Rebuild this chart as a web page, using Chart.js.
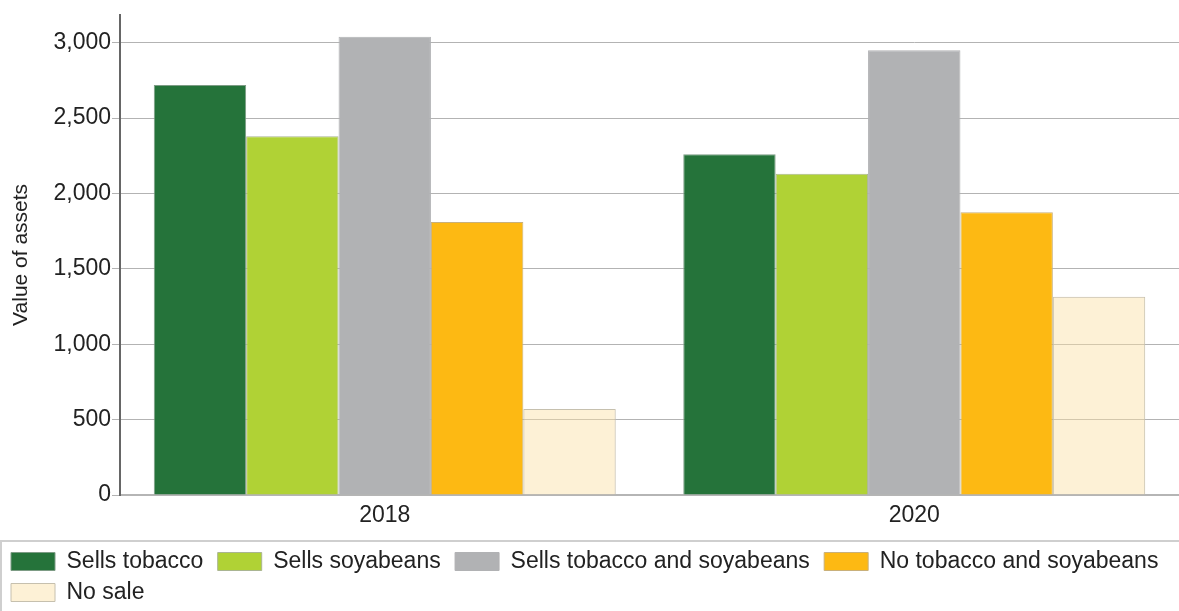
<!DOCTYPE html>
<html>
<head>
<meta charset="utf-8">
<script src="https://cdn.jsdelivr.net/npm/chart.js@4"></script>
<style>
html,body{margin:0;padding:0;background:#fff}
#wrap{width:1179px;height:611px;position:relative}
</style>
</head>
<body>
<div id="wrap"><canvas id="assetChart" width="1179" height="611"></canvas></div>
<script>
const years = ["2018", "2020"]
const sellsTobacco = [2720, 2260]
const sellsSoyabeans = [2380, 2130]
const sellsBoth = [3040, 2950]
const noTobaccoSoy = [1810, 1875]
const noSale = [570, 1315]
const yTicks = [0, 500, 1000, 1500, 2000, 2500, 3000]

const FONT = "'Liberation Sans', Arial, Helvetica, sans-serif"

// nudge legend down a little and draw the frame round it
const legendFrame = {
id: "legendFrame",
afterLayout(chart){
chart.legend.top += 3
chart.legend.bottom += 3
},
afterDraw(chart){
const lg = chart.legend
const c = chart.ctx
c.save()
c.strokeStyle = "#cfcfcf"
c.lineWidth = 2
c.strokeRect(1, lg.top - 1, chart.width + 10, lg.height + 10)
c.restore()
}
}

const defaultLabels = Chart.defaults.plugins.legend.labels.generateLabels

const ctx = document.getElementById("assetChart")

new Chart(ctx, {
type: "bar",
data: {
labels: years,
datasets: [
{ label: "Sells tobacco", data: sellsTobacco, backgroundColor: "#25733a", borderColor: "#7d9c85", borderWidth: 1 },
{ label: "Sells soyabeans", data: sellsSoyabeans, backgroundColor: "#b0d235", borderColor: "#aab592", borderWidth: 1 },
{ label: "Sells tobacco and soyabeans", data: sellsBoth, backgroundColor: "#b1b2b4", borderColor: "#b1b2b4", borderWidth: 1 },
{ label: "No tobacco and soyabeans", data: noTobaccoSoy, backgroundColor: "#fdb913", borderColor: "#c9b07a", borderWidth: 1 },
{ label: "No sale", data: noSale, backgroundColor: "rgba(250,225,165,0.45)", borderColor: "#c6c0ae", borderWidth: 1 }
]
},
options: {
responsive: false,
animation: false,
layout: { padding: { top: 12, right: 0, left: 3, bottom: 0 } },
datasets: { bar: { categoryPercentage: 0.8725, barPercentage: 1 } },
plugins: {
legend: {
position: "bottom",
align: "start",
labels: {
boxWidth: 44,
boxHeight: 18,
padding: 8,
color: "#222",
font: { family: FONT, size: 23 },
generateLabels: chart => defaultLabels(chart).map(l => ({ ...l, text: l.text + " " }))
}
},
tooltip: { enabled: false }
},
scales: {
x: {
grid: { display: false, drawTicks: false },
border: { display: true, color: "#b5b5b5", width: 2 },
ticks: { color: "#222", padding: 7, font: { family: FONT, size: 23 } },
afterFit(scale){ scale.height = 44 }
},
y: {
min: 0,
max: 3185,
afterBuildTicks(scale){ scale.ticks = yTicks.map(v => ({ value: v })) },
grid: { color: "#b3b3b3", lineWidth: 1, tickLength: 8 },
border: { display: true, color: "#666", width: 2 },
ticks: {
color: "#222",
padding: 1,
font: { family: FONT, size: 23 },
callback: v => v.toLocaleString("en-US")
},
title: {
display: true,
text: "Value of assets",
color: "#222",
font: { family: FONT, size: 21 },
padding: { top: 6, bottom: 0 }
},
afterFit(scale){ scale.width = 117 }
}
}
},
plugins: [legendFrame]
})
</script>
</body>
</html>
